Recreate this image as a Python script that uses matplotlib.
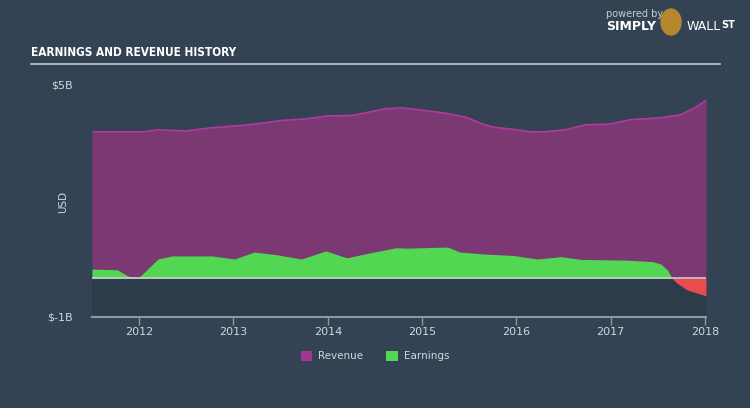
import matplotlib
matplotlib.use('Agg')
from matplotlib import pyplot as plt
from matplotlib.patches import Patch, Ellipse
import numpy as np

# revenue, $B
rev_x = [2011.50, 2012.05, 2012.20, 2012.49, 2012.75, 2013.07, 2013.33, 2013.50, 2013.76,
         2014.00, 2014.26, 2014.60, 2014.77, 2015.00, 2015.25, 2015.46, 2015.62, 2015.75,
         2015.94, 2016.15, 2016.30, 2016.52, 2016.73, 2017.00, 2017.20, 2017.52, 2017.73,
         2017.89, 2018.01]
rev_y = [3.79, 3.79, 3.84, 3.81, 3.89, 3.95, 4.02, 4.08, 4.12,
         4.20, 4.21, 4.38, 4.41, 4.35, 4.27, 4.17, 4.01, 3.91,
         3.86, 3.79, 3.79, 3.84, 3.97, 3.99, 4.10, 4.15, 4.22,
         4.41, 4.60]

# earnings, $B
earn_x = [2011.50, 2011.77, 2011.88, 2011.99, 2012.06, 2012.20, 2012.35, 2012.77, 2013.01,
          2013.22, 2013.46, 2013.72, 2013.98, 2014.20, 2014.43, 2014.72, 2014.85, 2015.27,
          2015.40, 2015.65, 2015.97, 2016.22, 2016.47, 2016.68, 2017.18, 2017.45, 2017.53,
          2017.60, 2017.65, 2017.70, 2017.81, 2017.98, 2018.01]
earn_y = [0.24, 0.22, 0.06, 0.01, 0.17, 0.50, 0.58, 0.58, 0.50,
          0.68, 0.61, 0.50, 0.71, 0.53, 0.65, 0.79, 0.78, 0.81,
          0.68, 0.63, 0.59, 0.50, 0.56, 0.49, 0.47, 0.43, 0.37,
          0.22, 0.00, -0.12, -0.30, -0.43, -0.45]

years = [2012, 2013, 2014, 2015, 2016, 2017, 2018]
ytick_vals = [-1, 5]
ytick_labels = ['$-1B', '$5B']

BG = '#334353'
TXT = '#d3d7dc'

fig = plt.figure(figsize=(7.5, 4.08), dpi=100, facecolor=BG)
ax = fig.add_axes([92 / 750, 1 - 317 / 408, 614 / 750, 232 / 408])
ax.set_facecolor(BG)

ax.axhspan(-1, 0, color='#2d3c4b', zorder=0, lw=0)

ax.fill_between(rev_x, 0, rev_y, color='#7b3873', lw=0, zorder=1)
ax.plot(rev_x, rev_y, color='#b13aa0', lw=1.2, zorder=2)

ex = np.array(earn_x)
ey = np.array(earn_y)
ax.fill_between(ex, 0, ey, where=ey >= 0, interpolate=True, color='#52d752', lw=0, zorder=3)
ax.fill_between(ex, 0, ey, where=ey <= 0, interpolate=True, color='#e84c4c', lw=0, zorder=3)
ax.axhline(0, color='#c8cdd2', lw=1.2, zorder=4)

ax.set_xlim(2011.5, 2018.01)
ax.set_ylim(-1, 5)
for s in ['top', 'right', 'left']:
    ax.spines[s].set_visible(False)
ax.spines['bottom'].set_color('#8c98a5')
ax.spines['bottom'].set_linewidth(1.5)

ax.set_xticks(years)
ax.set_xticklabels([str(y) for y in years], color=TXT, fontsize=8)
ax.tick_params(axis='x', colors='#8c98a5', length=6, width=1, labelcolor=TXT, pad=1)
ax.set_yticks(ytick_vals)
ax.set_yticklabels(ytick_labels, color=TXT, fontsize=8)
ax.tick_params(axis='y', length=0, pad=14)
for lab in ax.get_yticklabels():
    lab.set_verticalalignment('center')

fig.text(63 / 750, 1 - 202 / 408, 'USD', rotation=90, color=TXT, fontsize=7.5,
         ha='center', va='center')

# title and rule
fig.text(31 / 750, 1 - 53 / 408, 'EARNINGS AND REVENUE HISTORY', color='white',
         fontsize=8.5, fontweight='bold', fontstretch='condensed',
         family=['DejaVu Sans'], ha='left', va='center')
fig.add_artist(plt.Line2D([31 / 750, 720 / 750], [1 - 64 / 408, 1 - 64 / 408],
                          color='#c0c6cc', lw=1.2))

# logo text
fig.text(606 / 750, 1 - 14 / 408, 'powered by', color='#c8ccd0', fontsize=7, ha='left', va='center')
fig.text(606 / 750, 1 - 27 / 408, 'SIMPLY', color='white', fontsize=9, fontweight='bold',
         ha='left', va='center')
fig.text(687 / 750, 1 - 27 / 408, 'WALL', color='white', fontsize=9, ha='left', va='center')
fig.text(721 / 750, 1 - 25 / 408, 'ST', color='white', fontsize=7, fontweight='bold',
         ha='left', va='center')
fig.patches.append(Ellipse((671 / 750, 1 - 22 / 408), 20 / 750, 26 / 408,
                           transform=fig.transFigure, color='#b8862f'))

handles = [Patch(facecolor='#a3378f', edgecolor='none', label='Revenue'),
           Patch(facecolor='#52d752', edgecolor='none', label='Earnings')]
leg = fig.legend(handles=handles, loc='center', bbox_to_anchor=(0.5, 1 - 356 / 408), ncol=2,
                 frameon=False, fontsize=7.5, handlelength=1.1, handleheight=1.1,
                 columnspacing=2.2, handletextpad=0.6)
for t in leg.get_texts():
    t.set_color(TXT)

fig.savefig('out.png', dpi=100, facecolor=BG)
